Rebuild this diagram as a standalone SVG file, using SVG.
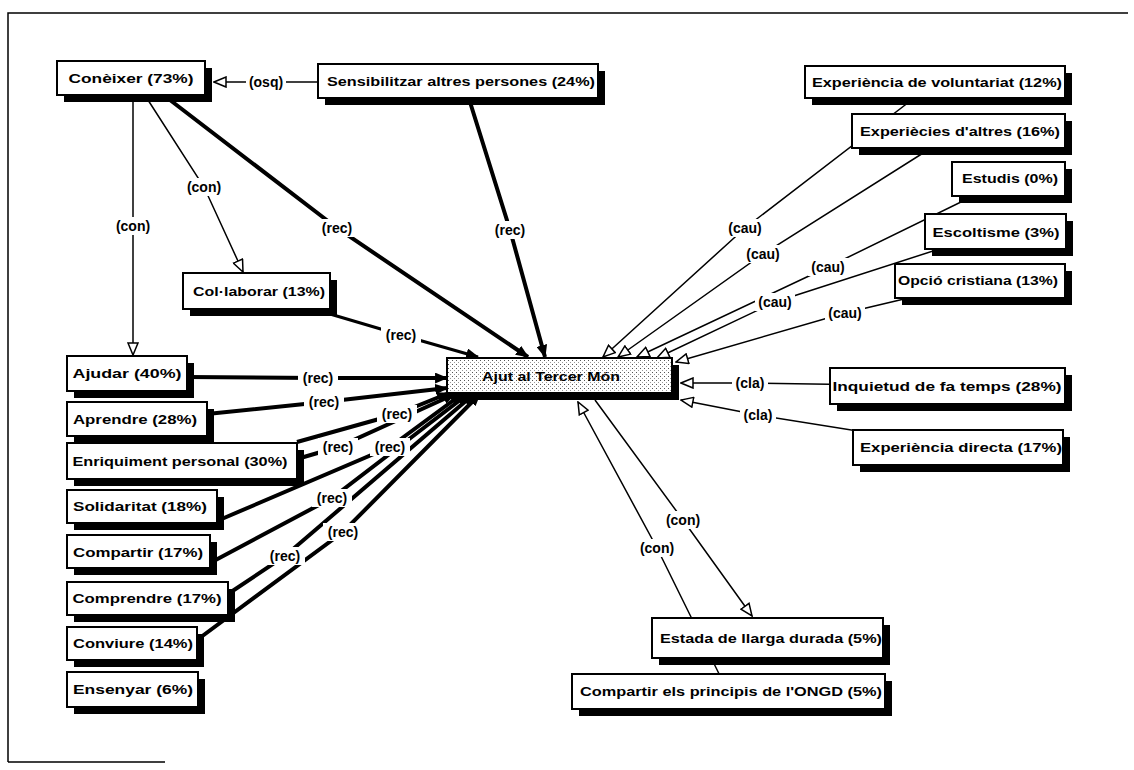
<svg xmlns="http://www.w3.org/2000/svg" width="1134" height="770" viewBox="0 0 1134 770">
<style>
.sh{fill:#000}
.bx{fill:#fff;stroke:#000;stroke-width:2}
.t{font-family:"Liberation Sans",Arial,sans-serif;font-size:13px;font-weight:bold;fill:#000;text-anchor:middle}
.lb{font-family:"Liberation Sans",Arial,sans-serif;font-size:14px;font-weight:bold;fill:#000;text-anchor:middle}
.lbg{fill:#fff}
.thin{fill:none;stroke:#000;stroke-width:1.5}
.thick{fill:none;stroke:#000;stroke-width:4}
.mid{fill:none;stroke:#000;stroke-width:3}
.frame{fill:none;stroke:#000;stroke-width:1.5}
</style>
<defs>
<marker id="af" viewBox="0 0 12 10" refX="11" refY="5" markerWidth="13" markerHeight="11" markerUnits="userSpaceOnUse" orient="auto"><path d="M0,0 L12,5 L0,10 z" fill="#000"/></marker>
<marker id="ah" viewBox="0 0 14 12" refX="13" refY="6" markerWidth="14" markerHeight="12" markerUnits="userSpaceOnUse" orient="auto"><path d="M1,1 L13,6 L1,11 z" fill="#fff" stroke="#000" stroke-width="1.5"/></marker>
<pattern id="dots" width="4" height="4" patternUnits="userSpaceOnUse"><rect width="4" height="4" fill="#fff"/><rect x="0" y="0" width="1" height="1" fill="#555"/><rect x="2" y="2" width="1" height="1" fill="#999"/></pattern>
</defs>
<rect width="1134" height="770" fill="#fff"/>
<path class="frame" d="M8,762 L8,13 L1128,13 M8,762 L165,762"/>

<g id="connectors">
  <path class="thin" d="M318,82 L214,82" marker-end="url(#ah)"/>
  <path class="thin" d="M133,100 L133,355" marker-end="url(#ah)"/>
  <path class="thin" d="M148,100 L204,187 L243,272" marker-end="url(#ah)"/>
  <path class="thick" d="M170,100 L337,228 L528,357" marker-end="url(#af)"/>
  <path class="thick" d="M470,102 L510,230 L545,357" marker-end="url(#af)"/>
  <path class="mid" d="M330,314 L401,335 L478,357" marker-end="url(#af)"/>
  <path class="thick" d="M187,377 L318,378 L447,378" marker-end="url(#af)"/>
  <path class="thick" d="M207,414 L324,402 L447,388" marker-end="url(#af)"/>
  <path class="thick" d="M297,442 L397,414 L449,393" marker-end="url(#af)"/>
  <path class="thick" d="M297,459 L338,447 L455,394" marker-end="url(#af)"/>
  <path class="thick" d="M217,521 L390,447 L462,394" marker-end="url(#af)"/>
  <path class="thick" d="M210,563 L332,498 L468,394" marker-end="url(#af)"/>
  <path class="thick" d="M228,594 L285,556 L474,394" marker-end="url(#af)"/>
  <path class="thick" d="M197,640 L343,532 L480,394" marker-end="url(#af)"/>
  <path class="thin" d="M935,82 L745,228 L603,357" marker-end="url(#ah)"/>
  <path class="thin" d="M958,131 L763,254 L618,357" marker-end="url(#ah)"/>
  <path class="thin" d="M1008,179 L828,267 L637,357" marker-end="url(#ah)"/>
  <path class="thin" d="M995,231 L775,302 L657,358" marker-end="url(#ah)"/>
  <path class="thin" d="M980,281 L845,313 L676,362" marker-end="url(#ah)"/>
  <path class="thin" d="M947,386 L750,383 L681,383" marker-end="url(#ah)"/>
  <path class="thin" d="M958,447 L758,415 L681,400" marker-end="url(#ah)"/>
  <path class="thin" d="M728,692 L657,548 L578,402" marker-end="url(#ah)"/>
  <path class="thin" d="M595,400 L683,520 L752,616" marker-end="url(#ah)"/>
  <g id="labels">
    <rect class="lbg" x="246" y="73" width="40" height="18"/><text class="lb" x="266" y="87">(osq)</text>
    <rect class="lbg" x="113" y="217" width="40" height="18"/><text class="lb" x="133" y="231">(con)</text>
    <rect class="lbg" x="184" y="178" width="40" height="18"/><text class="lb" x="204" y="192">(con)</text>
    <rect class="lbg" x="317" y="219" width="40" height="18"/><text class="lb" x="337" y="233">(rec)</text>
    <rect class="lbg" x="490" y="221" width="40" height="18"/><text class="lb" x="510" y="235">(rec)</text>
    <rect class="lbg" x="381" y="326" width="40" height="18"/><text class="lb" x="401" y="340">(rec)</text>
    <rect class="lbg" x="298" y="369" width="40" height="18"/><text class="lb" x="318" y="383">(rec)</text>
    <rect class="lbg" x="304" y="393" width="40" height="18"/><text class="lb" x="324" y="407">(rec)</text>
    <rect class="lbg" x="377" y="405" width="40" height="18"/><text class="lb" x="397" y="419">(rec)</text>
    <rect class="lbg" x="318" y="438" width="40" height="18"/><text class="lb" x="338" y="452">(rec)</text>
    <rect class="lbg" x="370" y="438" width="40" height="18"/><text class="lb" x="390" y="452">(rec)</text>
    <rect class="lbg" x="312" y="489" width="40" height="18"/><text class="lb" x="332" y="503">(rec)</text>
    <rect class="lbg" x="265" y="547" width="40" height="18"/><text class="lb" x="285" y="561">(rec)</text>
    <rect class="lbg" x="323" y="523" width="40" height="18"/><text class="lb" x="343" y="537">(rec)</text>
    <rect class="lbg" x="725" y="219" width="40" height="18"/><text class="lb" x="745" y="233">(cau)</text>
    <rect class="lbg" x="743" y="245" width="40" height="18"/><text class="lb" x="763" y="259">(cau)</text>
    <rect class="lbg" x="808" y="258" width="40" height="18"/><text class="lb" x="828" y="272">(cau)</text>
    <rect class="lbg" x="755" y="293" width="40" height="18"/><text class="lb" x="775" y="307">(cau)</text>
    <rect class="lbg" x="825" y="304" width="40" height="18"/><text class="lb" x="845" y="318">(cau)</text>
    <rect class="lbg" x="732" y="374" width="36" height="18"/><text class="lb" x="750" y="388">(cla)</text>
    <rect class="lbg" x="740" y="406" width="36" height="18"/><text class="lb" x="758" y="420">(cla)</text>
    <rect class="lbg" x="637" y="539" width="40" height="18"/><text class="lb" x="657" y="553">(con)</text>
    <rect class="lbg" x="663" y="511" width="40" height="18"/><text class="lb" x="683" y="525">(con)</text>
  </g>
</g>

<g id="n-coneixer"><rect class="sh" x="64" y="68" width="148" height="34"/><rect class="bx" x="57" y="61" width="148" height="34"/><text class="t" x="131" y="83" textLength="125" lengthAdjust="spacingAndGlyphs">Conèixer (73%)</text></g>
<g id="n-sensibilitzar"><rect class="sh" x="325" y="71" width="280" height="34"/><rect class="bx" x="318" y="64" width="280" height="34"/><text class="t" x="461" y="86" textLength="268" lengthAdjust="spacingAndGlyphs">Sensibilitzar altres persones (24%)</text></g>
<g id="n-voluntariat"><rect class="sh" x="812" y="73" width="260" height="32"/><rect class="bx" x="805" y="66" width="260" height="32"/><text class="t" x="937" y="87" textLength="250" lengthAdjust="spacingAndGlyphs">Experiència de voluntariat (12%)</text></g>
<g id="n-experiecies"><rect class="sh" x="859" y="121" width="213" height="34"/><rect class="bx" x="852" y="114" width="213" height="34"/><text class="t" x="960" y="136" textLength="200" lengthAdjust="spacingAndGlyphs">Experiècies d'altres (16%)</text></g>
<g id="n-estudis"><rect class="sh" x="959" y="169" width="113" height="34"/><rect class="bx" x="952" y="162" width="113" height="34"/><text class="t" x="1010" y="183" textLength="96" lengthAdjust="spacingAndGlyphs">Estudis (0%)</text></g>
<g id="n-escoltisme"><rect class="sh" x="932" y="221" width="141" height="35"/><rect class="bx" x="925" y="214" width="141" height="35"/><text class="t" x="996" y="237" textLength="127" lengthAdjust="spacingAndGlyphs">Escoltisme (3%)</text></g>
<g id="n-opcio"><rect class="sh" x="902" y="271" width="170" height="34"/><rect class="bx" x="895" y="264" width="170" height="34"/><text class="t" x="978" y="285" textLength="160" lengthAdjust="spacingAndGlyphs">Opció cristiana (13%)</text></g>
<g id="n-inquietud"><rect class="sh" x="837" y="375" width="235" height="36"/><rect class="bx" x="830" y="368" width="235" height="36"/><text class="t" x="947" y="391" textLength="229" lengthAdjust="spacingAndGlyphs">Inquietud de fa temps  (28%)</text></g>
<g id="n-directa"><rect class="sh" x="860" y="437" width="210" height="35"/><rect class="bx" x="853" y="430" width="210" height="35"/><text class="t" x="961" y="452" textLength="202" lengthAdjust="spacingAndGlyphs">Experiència directa  (17%)</text></g>
<g id="n-estada"><rect class="sh" x="659" y="625" width="231" height="40"/><rect class="bx" x="652" y="618" width="231" height="40"/><text class="t" x="771" y="643" textLength="222" lengthAdjust="spacingAndGlyphs">Estada de llarga durada (5%)</text></g>
<g id="n-ongd"><rect class="sh" x="579" y="681" width="313" height="35"/><rect class="bx" x="572" y="674" width="313" height="35"/><text class="t" x="731" y="696" textLength="302" lengthAdjust="spacingAndGlyphs">Compartir els principis de l'ONGD (5%)</text></g>
<g id="n-ajut"><rect class="sh" x="454" y="365" width="225" height="35"/><rect class="bx" x="447" y="358" width="225" height="35" style="fill:url(#dots)"/><text class="t" x="551" y="381" textLength="138" lengthAdjust="spacingAndGlyphs">Ajut al Tercer Món</text></g>
<g id="n-collaborar"><rect class="sh" x="190" y="280" width="147" height="36"/><rect class="bx" x="183" y="273" width="147" height="36"/><text class="t" x="259" y="296" textLength="132" lengthAdjust="spacingAndGlyphs">Col·laborar (13%)</text></g>
<g id="n-ajudar"><rect class="sh" x="74" y="363" width="120" height="35"/><rect class="bx" x="67" y="356" width="120" height="35"/><text class="t" x="127" y="378" textLength="109" lengthAdjust="spacingAndGlyphs">Ajudar  (40%)</text></g>
<g id="n-aprendre"><rect class="sh" x="74" y="409" width="140" height="34"/><rect class="bx" x="67" y="402" width="140" height="34"/><text class="t" x="135" y="424" textLength="124" lengthAdjust="spacingAndGlyphs">Aprendre  (28%)</text></g>
<g id="n-enriquiment"><rect class="sh" x="74" y="450" width="230" height="36"/><rect class="bx" x="67" y="443" width="230" height="36"/><text class="t" x="180" y="466" textLength="215" lengthAdjust="spacingAndGlyphs">Enriquiment personal  (30%)</text></g>
<g id="n-solidaritat"><rect class="sh" x="74" y="497" width="150" height="33"/><rect class="bx" x="67" y="490" width="150" height="33"/><text class="t" x="140" y="511" textLength="134" lengthAdjust="spacingAndGlyphs">Solidaritat  (18%)</text></g>
<g id="n-compartir"><rect class="sh" x="74" y="542" width="143" height="33"/><rect class="bx" x="67" y="535" width="143" height="33"/><text class="t" x="138" y="557" textLength="130" lengthAdjust="spacingAndGlyphs">Compartir  (17%)</text></g>
<g id="n-comprendre"><rect class="sh" x="74" y="589" width="161" height="33"/><rect class="bx" x="67" y="582" width="161" height="33"/><text class="t" x="147" y="603" textLength="149" lengthAdjust="spacingAndGlyphs">Comprendre  (17%)</text></g>
<g id="n-conviure"><rect class="sh" x="74" y="634" width="130" height="33"/><rect class="bx" x="67" y="627" width="130" height="33"/><text class="t" x="133" y="648" textLength="120" lengthAdjust="spacingAndGlyphs">Conviure (14%)</text></g>
<g id="n-ensenyar"><rect class="sh" x="74" y="679" width="131" height="35"/><rect class="bx" x="67" y="672" width="131" height="35"/><text class="t" x="133" y="694" textLength="120" lengthAdjust="spacingAndGlyphs">Ensenyar  (6%)</text></g>
</svg>
